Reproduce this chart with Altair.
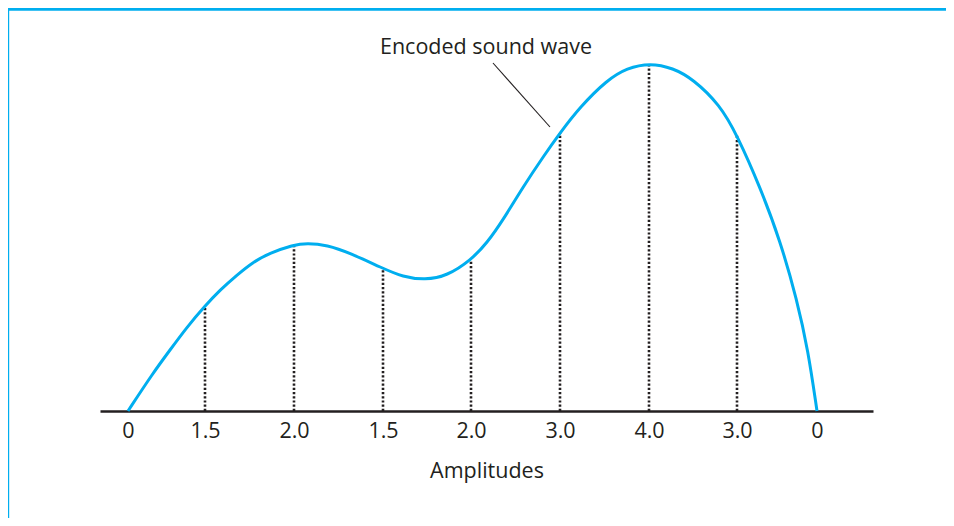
import altair as alt
import pandas as pd

# Curve of the encoded sound wave (time position, height above axis)
curve_t = [0, 25, 42, 59, 77, 92, 109, 125, 142, 165, 179, 199, 222, 254, 275, 297, 319,
           343, 359, 375, 395, 415, 432, 452, 479, 499, 522, 545, 565, 592, 609, 632, 652,
           669, 680, 689]
curve_h = [0, 38, 61, 84, 105, 121, 136, 149, 158, 166, 168, 166, 158, 143, 134, 131, 135,
           151, 168, 191, 224, 254, 278, 304, 331, 343, 348, 343, 332, 306, 276, 224, 171,
           111, 61, 0]

# Sample points
sample_t = [0, 77, 166, 255, 343, 432, 521, 609, 689]
sample_h = [0, 105, 166, 143, 151, 278, 348, 276, 0]
amplitude_labels = ["0", "1.5", "2.0", "1.5", "2.0", "3.0", "4.0", "3.0", "0"]

# Annotation
annot_text = ["Encoded sound wave"]
annot_t = [358]
annot_h = [363]
leader_t = [365]
leader_h = [348]
leader_t2 = [422]
leader_h2 = [284]

BLUE = "#00aeef"
INK = "#231f20"
FONT = "Open Sans"
FS = 21.5

curve_df = pd.DataFrame({"t": curve_t, "h": curve_h})
samples_df = pd.DataFrame({"t": sample_t, "h": sample_h, "lab": amplitude_labels})
rules_df = samples_df[samples_df["h"] > 0]
annot_df = pd.DataFrame({"t": annot_t, "h": annot_h, "txt": annot_text})
leader_df = pd.DataFrame({"t": leader_t, "h": leader_h, "t2": leader_t2, "h2": leader_h2})

label_expr = "{}[indexof({}, datum.value)]".format(
    "[" + ",".join("'%s'" % s for s in amplitude_labels) + "]",
    "[" + ",".join(str(v) for v in sample_t) + "]",
)

x_scale = alt.Scale(domain=[-28, 745], nice=False, zero=False)
y_scale = alt.Scale(domain=[0, 391], nice=False, zero=False)

x_axis = alt.Axis(
    values=sample_t,
    labelExpr=label_expr,
    ticks=False,
    tickSize=0,
    grid=False,
    domain=True,
    domainColor=INK,
    domainWidth=2.5,
    labelFont=FONT,
    labelFontSize=FS,
    labelColor=INK,
    labelPadding=9,
    labelFlush=False,
    labelOverlap=False,
    title="Amplitudes",
    titleFont=FONT,
    titleFontSize=FS,
    titleFontWeight="normal",
    titleColor=INK,
    titlePadding=19,
)

x_enc = alt.X("t:Q", scale=x_scale, axis=x_axis)
y_enc = alt.Y("h:Q", scale=y_scale, axis=None)

curve = alt.Chart(curve_df).mark_line(
    color=BLUE, strokeWidth=3, interpolate="basis"
).encode(x=x_enc, y=y_enc)

rules = alt.Chart(rules_df).mark_rule(
    color=INK, strokeWidth=2.6, strokeDash=[2.2, 2]
).encode(x=x_enc, y=alt.Y("zero:Q", scale=y_scale, axis=None), y2="h:Q").transform_calculate(zero="0")

leader = alt.Chart(leader_df).mark_rule(color=INK, strokeWidth=1.1).encode(
    x=x_enc, y=y_enc, x2="t2:Q", y2="h2:Q"
)

label = alt.Chart(annot_df).mark_text(
    font=FONT, fontSize=FS, color=INK, align="center", baseline="middle"
).encode(x=x_enc, y=y_enc, text="txt:N")

deco_df = pd.DataFrame({"a": [0]})
top_bar = alt.Chart(deco_df).mark_rect(color=BLUE).encode(
    x=alt.value(-92), x2=alt.value(846), y=alt.value(-12), y2=alt.value(-9.3)
)
left_line = alt.Chart(deco_df).mark_rect(color=BLUE).encode(
    x=alt.value(-92), x2=alt.value(-90.8), y=alt.value(-12), y2=alt.value(498)
)

chart = alt.layer(rules, curve, leader, label, top_bar, left_line).properties(
    width=773,
    height=391,
    autosize=alt.AutoSizeParams(type="none"),
    padding={"left": 92, "top": 12, "right": 73, "bottom": 107},
    background="white",
).configure_view(stroke=None)

chart.save("out.html", embed_options={"renderer": "svg", "actions": False})
